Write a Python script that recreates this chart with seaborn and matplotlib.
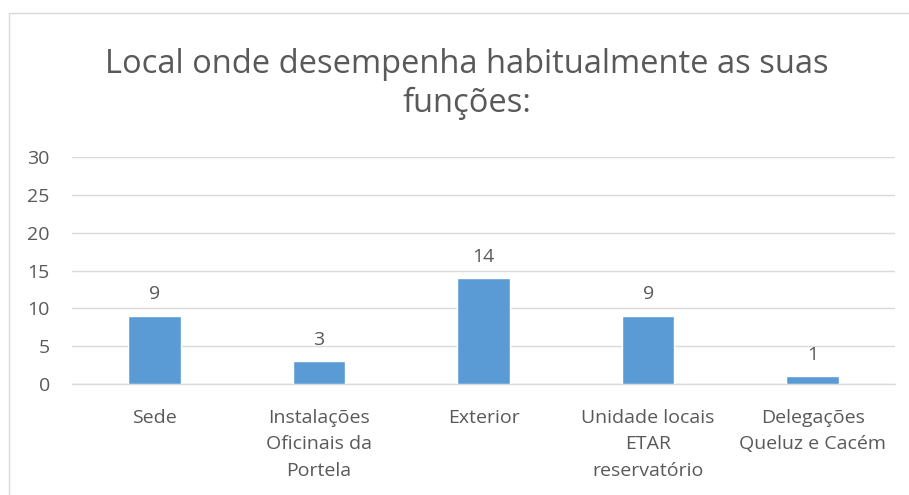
import matplotlib
matplotlib.use("Agg")
import matplotlib.pyplot as plt
import seaborn as sns
import pandas as pd
from matplotlib.lines import Line2D

# data
categories = ["Sede", "Instalações\nOficinais da\nPortela", "Exterior",
              "Unidade locais\nETAR\nreservatório", "Delegações\nQueluz e Cacém"]
values = [9, 3, 14, 9, 1]
yticks = [0, 5, 10, 15, 20, 25, 30]

text_col = "#595959"
bar_col = "#5B9BD5"
grid_col = "#D9D9D9"

sns.set_theme(style="white")
plt.rcParams["font.family"] = ["Open Sans", "DejaVu Sans"]

df = pd.DataFrame({"local": categories, "n": values})

fig = plt.figure(figsize=(9.09, 4.95), dpi=100)
ax = fig.add_axes([72 / 909, 1 - 384 / 495, (895 - 72) / 909, (384 - 157) / 495])

sns.barplot(data=df, x="local", y="n", color=bar_col, width=0.32,
            saturation=1, ax=ax, zorder=3)

ax.set_ylim(0, 30)
ax.set_yticks(yticks)
ax.yaxis.grid(True, color=grid_col, linewidth=1)
ax.set_axisbelow(True)
for s in ["top", "right", "left"]:
    ax.spines[s].set_visible(False)
ax.spines["bottom"].set_color(grid_col)
ax.spines["bottom"].set_linewidth(1)
ax.tick_params(axis="both", length=0, labelsize=14, colors=text_col)
ax.tick_params(axis="y", pad=16)
ax.tick_params(axis="x", pad=18)
for lbl in ax.get_xticklabels():
    lbl.set_linespacing(1.6)
ax.set_xlabel("")
ax.set_ylabel("")

for p, v in zip(ax.patches, values):
    ax.annotate(str(v), (p.get_x() + p.get_width() / 2, v),
                xytext=(0, 9), textcoords="offset points",
                ha="center", va="bottom", fontsize=14, color=text_col)

fig.text(467 / 909, 1 - 84 / 495, "Local onde desempenha habitualmente as suas\nfunções:",
         ha="center", va="center", fontsize=23.5, color=text_col, linespacing=1.2)

# chart frame (left and top edges visible)
fig.add_artist(Line2D([9 / 909, 9 / 909], [0, 1 - 13 / 495], transform=fig.transFigure,
                      color=grid_col, linewidth=1))
fig.add_artist(Line2D([9 / 909, 1], [1 - 13 / 495, 1 - 13 / 495], transform=fig.transFigure,
                      color=grid_col, linewidth=1))

fig.savefig("out.png", dpi=100)
